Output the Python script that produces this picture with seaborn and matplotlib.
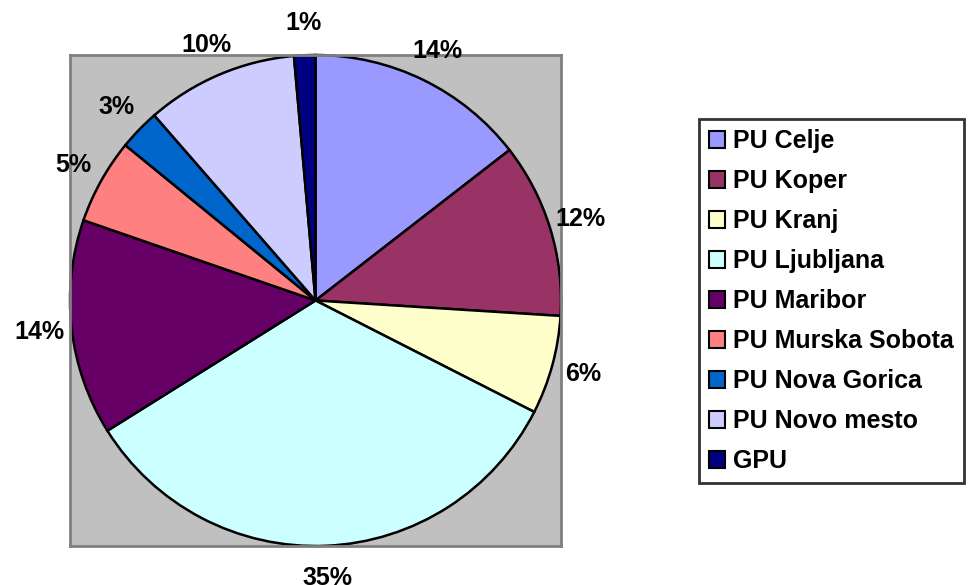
import matplotlib
matplotlib.use('Agg')
import matplotlib.pyplot as plt
import seaborn as sns
from matplotlib.patches import Patch

# Data (shares)
categories = ['PU Celje', 'PU Koper', 'PU Kranj', 'PU Ljubljana', 'PU Maribor',
              'PU Murska Sobota', 'PU Nova Gorica', 'PU Novo mesto', 'GPU']
shares = [14.5, 11.5, 6.5, 33.6, 14.2, 5.6, 2.7, 10.0, 1.4]
pct_labels = ['14%', '12%', '6%', '35%', '14%', '5%', '3%', '10%', '1%']
colors = ['#9999FF', '#993366', '#FFFFCC', '#CCFFFF', '#660066',
          '#FF8080', '#0066CC', '#CCCCFF', '#000080']

sns.set_theme(style='white')
plt.rcParams['font.family'] = ['Liberation Sans', 'DejaVu Sans']
plt.rcParams['font.weight'] = 'bold'
plt.rcParams['text.color'] = 'black'

W, H = 971, 585
fig = plt.figure(figsize=(W / 100, H / 100), dpi=100)
fig.patch.set_facecolor('white')

# square plot area that just holds the pie
ax = fig.add_axes([70 / W, (H - 546) / H, 491 / W, 491 / H])
wedges, texts = ax.pie(shares, labels=pct_labels, colors=colors,
                       startangle=90, counterclock=False, radius=1,
                       labeldistance=1.13, frame=True,
                       wedgeprops=dict(edgecolor='black', linewidth=1.8),
                       textprops=dict(fontsize=18, fontweight='bold', color='black'))
for t in texts:
    t.set_ha('center')
    t.set_va('center')
    t.set_zorder(5)

ax.set_facecolor('#C0C0C0')
ax.set_xlim(-1, 1)
ax.set_ylim(-1, 1)
ax.set_xticks([])
ax.set_yticks([])
for s in ax.spines.values():
    s.set_visible(True)
    s.set_color('#808080')
    s.set_linewidth(2)

handles = [Patch(facecolor=c, edgecolor='black', linewidth=1.5) for c in colors]
leg = fig.legend(handles, categories, loc='upper left',
                 bbox_to_anchor=(699 / W, 1 - 119 / H),
                 prop=dict(size=18, weight='bold'),
                 frameon=True, fancybox=False, edgecolor='black',
                 handlelength=0.65, handleheight=0.65, handletextpad=0.3,
                 labelspacing=0.64, borderpad=0.4, borderaxespad=0)
leg.get_frame().set_linewidth(2)
for txt in leg.get_texts():
    txt.set_color('black')

fig.savefig('out.png', dpi=100, facecolor='white')
